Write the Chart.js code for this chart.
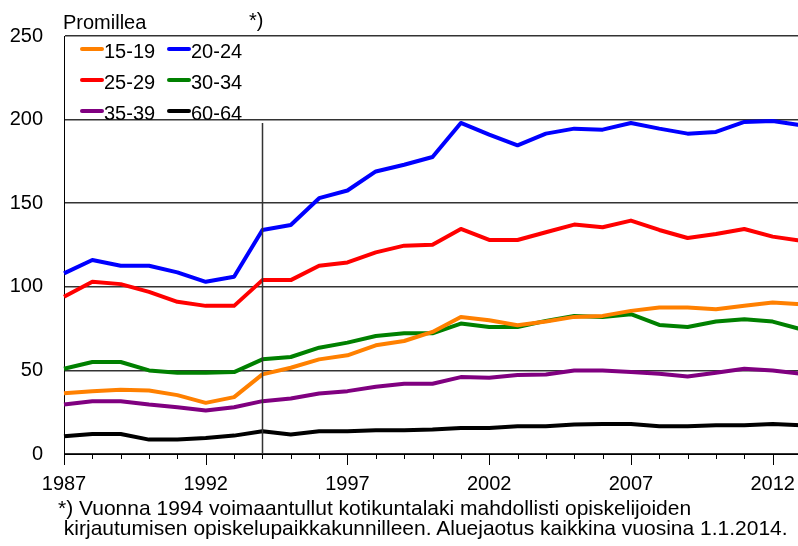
<!DOCTYPE html>
<html>
<head>
<meta charset="utf-8">
<script src="https://cdn.jsdelivr.net/npm/chart.js@4.4.1/dist/chart.umd.min.js"></script>
<style>
    body { margin: 0; background: #fff; }
    #wrap { position: relative; width: 798px; height: 546px; overflow: hidden; font-family: "Liberation Sans", Arial, sans-serif; color: #000; }
    #chart { position: absolute; left: 0; top: 0; }
    .txt { position: absolute; font-size: 20px; line-height: 20px; white-space: nowrap; }
    .note { font-size: 21px; }
</style>
</head>
<body>
<div id="wrap">
    <canvas id="chart" width="802" height="546"></canvas>
    <div class="txt" style="left:63px; top:12px;">Promillea</div>
    <div class="txt" style="left:249px; top:10px;">*)</div>
    <div class="txt note" style="left:58px; top:498px;">*) Vuonna 1994 voimaantullut kotikuntalaki mahdollisti opiskelijoiden<br>&nbsp;kirjautumisen opiskelupaikkakunnilleen. Aluejaotus kaikkina vuosina 1.1.2014.</div>
</div>
<script>
// Years on the x axis
var years = ['1987', '1988', '1989', '1990', '1991', '1992', '1993', '1994', '1995', '1996', '1997', '1998', '1999',
    '2000', '2001', '2002', '2003', '2004', '2005', '2006', '2007', '2008', '2009', '2010', '2011', '2012', '2013'];

// Series values (promille) per age group
var age15_19 = [36.4, 37.6, 38.4, 38, 35.2, 30.6, 34, 47.6, 51.6, 56.6, 59, 65, 67.6,
    73, 82, 80, 77, 79.2, 82, 82.6, 85.6, 87.6, 87.6, 86.6, 88.6, 90.6, 89.6];
var age20_24 = [108, 116, 112.6, 112.6, 108.6, 103, 106, 134, 137, 153, 157.6, 169, 173,
    177.6, 198, 191, 184.6, 191.6, 194.6, 194, 198, 194.6, 191.6, 192.6, 198.6, 199.2, 196.6];
var age25_29 = [94, 103, 101.6, 97, 91, 88.6, 88.6, 104, 104, 112.6, 114.6, 120.6, 124.6,
    125.2, 134.6, 128, 128, 132.6, 137.2, 135.6, 139.6, 134, 129.2, 131.6, 134.6, 130, 127.6];
var age30_34 = [51, 55, 55, 50, 48.6, 48.6, 49, 56.6, 58, 63.6, 66.6, 70.6, 72.2,
    72.2, 78, 76, 76, 79.6, 82.6, 82, 83.6, 77.2, 76, 79.2, 80.6, 79.2, 74.6];
var age35_39 = [29.6, 31.6, 31.6, 29.6, 28, 26, 28, 31.6, 33.2, 36.2, 37.6, 40.2, 42,
    42, 46, 45.6, 47.2, 47.6, 50, 50, 49, 48, 46.4, 48.6, 51, 50, 48];
var age60_64 = [10.6, 12, 12, 8.6, 8.6, 9.6, 11, 13.6, 11.6, 13.6, 13.6, 14.2, 14.2,
    14.6, 15.6, 15.6, 16.6, 16.6, 17.6, 18, 18, 16.6, 16.6, 17.2, 17.2, 18, 17.2];

var seriesLabels = ['15-19', '20-24', '25-29', '30-34', '35-39', '60-64'];
var seriesColors = ['#ff8000', '#0000ff', '#ff0000', '#008000', '#800080', '#000000'];
var seriesData = [age15_19, age20_24, age25_29, age30_34, age35_39, age60_64];

// Y axis ticks
var yMin = 0, yMax = 250, yStep = 50;
// 1994 law change marker
var markerYear = '1994', markerTop = 198;

var FONT = '"Liberation Sans", Arial, sans-serif';

// draws the year tick marks, the 1994 line and the legend box
var extrasPlugin = {
    id: 'extras',
    afterDatasetsDraw: function(chart) {
        var ctx = chart.ctx;
        var x = chart.scales.x, y = chart.scales.y;
        var area = chart.chartArea;
        ctx.save();

        // tick marks below the x axis
        ctx.strokeStyle = '#000';
        ctx.lineWidth = 1;
        years.forEach(function(yr, i) {
            var px = Math.round(x.getPixelForValue(i)) + 0.5;
            var len = (parseInt(yr) - 1987) % 5 === 0 ? 11 : 5;
            ctx.beginPath();
            ctx.moveTo(px, area.bottom);
            ctx.lineTo(px, area.bottom + len);
            ctx.stroke();
        });

        // vertical line at 1994
        var mx = Math.round(x.getPixelForValue(years.indexOf(markerYear))) + 0.5;
        ctx.strokeStyle = '#333';
        ctx.lineWidth = 1.5;
        ctx.beginPath();
        ctx.moveTo(mx, y.getPixelForValue(markerTop));
        ctx.lineTo(mx, area.bottom);
        ctx.stroke();

        // legend, 2 columns x 3 rows
        ctx.font = '20px ' + FONT;
        ctx.textBaseline = 'alphabetic';
        ctx.fillStyle = '#000';
        ctx.lineCap = 'round';
        seriesLabels.forEach(function(lbl, i) {
            var col = i % 2, row = Math.floor(i / 2);
            var sx = area.left + 18 + col * 87;
            var sy = area.top + 13 + row * 31;
            ctx.strokeStyle = seriesColors[i];
            ctx.lineWidth = 4;
            ctx.beginPath();
            ctx.moveTo(sx, sy);
            ctx.lineTo(sx + 20, sy);
            ctx.stroke();
            ctx.fillText(lbl, sx + 22, sy + 9);
        });
        ctx.restore();
    }
};

var ctx = document.getElementById('chart').getContext('2d');
var chart = new Chart(ctx, {
    type: 'line',
    data: {
        labels: years,
        datasets: seriesData.map(function(d, i) {
            return {
                label: seriesLabels[i],
                data: d,
                borderColor: seriesColors[i],
                backgroundColor: seriesColors[i],
                borderWidth: 4,
                pointRadius: 0,
                tension: 0,
                fill: false,
                borderJoinStyle: 'round'
            };
        })
    },
    options: {
        responsive: false,
        animation: false,
        devicePixelRatio: 1,
        layout: { padding: { left: 0, top: 36, right: 1, bottom: 52 } },
        plugins: {
            legend: { display: false },
            tooltip: { enabled: false }
        },
        scales: {
            x: {
                type: 'category',
                offset: false,
                grid: { drawOnChartArea: false, drawTicks: false },
                border: { display: true, color: '#000', width: 1 },
                ticks: {
                    autoSkip: false,
                    maxRotation: 0,
                    padding: 18,
                    color: '#000',
                    font: { family: FONT, size: 20 },
                    callback: function(v, i) {
                        return (parseInt(years[i]) - 1987) % 5 === 0 ? years[i] : '';
                    }
                },
                afterFit: function(scale) {
                    scale.height = 40;
                    scale.paddingLeft = 0;
                    scale.paddingRight = 0;
                }
            },
            y: {
                min: yMin,
                max: yMax,
                grid: { drawTicks: false, color: '#333', lineWidth: 1.5 },
                border: { display: true, color: '#000', width: 1 },
                ticks: {
                    stepSize: yStep,
                    padding: 21,
                    color: '#000',
                    font: { family: FONT, size: 20 }
                },
                afterFit: function(scale) { scale.width = 64; }
            }
        }
    },
    plugins: [extrasPlugin]
});
</script>
</body>
</html>
